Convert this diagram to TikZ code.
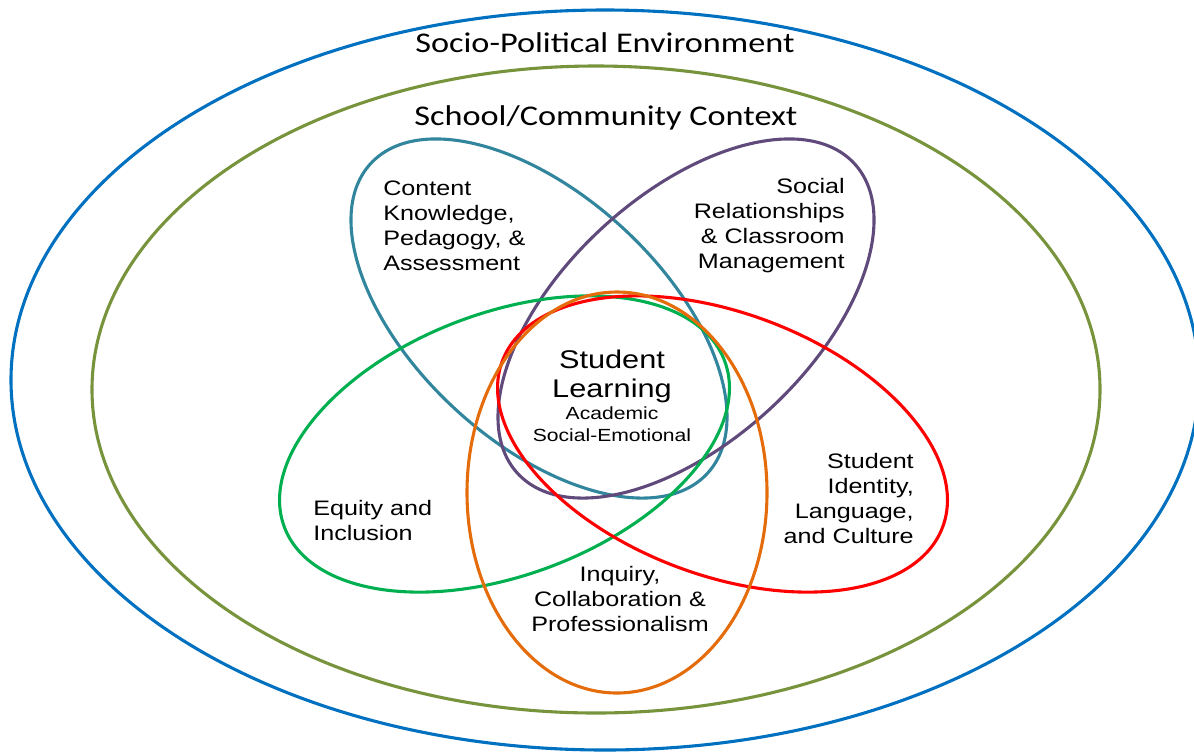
\documentclass[tikz,border=0pt]{standalone}
\usepackage{fontspec}
\newfontfamily\ringfont[FakeStretch=1.2]{Carlito}
\newfontfamily\labelfont[FakeStretch=1.2]{Liberation Sans}
\definecolor{envblue}{HTML}{0070C0}
\definecolor{ctxolive}{HTML}{77933C}
\definecolor{cpateal}{HTML}{31859C}
\definecolor{relpurple}{HTML}{604A7B}
\definecolor{eqgreen}{HTML}{00B050}
\definecolor{idred}{HTML}{FF0000}
\definecolor{inqorange}{HTML}{E46C0A}
\tikzset{
  ring/.style={line width=2.2pt},
  ringlabel/.style={font=\ringfont\fontsize{20.3}{24}\selectfont, inner sep=0pt},
  arealabel/.style={font=\labelfont\fontsize{14.9}{17.8}\selectfont, inner sep=0pt},
}
\begin{document}
\begin{tikzpicture}[x=0.025cm,y=-0.025cm]
  \useasboundingbox (0,0) rectangle (1194,751);
  \draw[ring,envblue] (605,380) ellipse [x radius=594, y radius=370];
  \draw[ring,ctxolive] (596,389.5) ellipse [x radius=504, y radius=323.5];
  \draw[ring,cpateal,rotate around={-42.6:(539,318.5)}] (539,318.5) ellipse [x radius=228.8, y radius=123.4];
  \draw[ring,relpurple,rotate around={42.6:(686,318.5)}] (686,318.5) ellipse [x radius=228.8, y radius=123.4];
  \draw[ring,eqgreen,rotate around={20.7:(504.5,444)}] (504.5,444) ellipse [x radius=235.3, y radius=131];
  \draw[ring,idred,rotate around={-20.7:(722.5,444)}] (722.5,444) ellipse [x radius=235.3, y radius=131];
  \draw[ring,inqorange] (617,492.5) ellipse [x radius=150, y radius=200.5];

  \node[ringlabel] (env) at (605,43) {Socio-Political Environment};
  \node[ringlabel] (ctx) at (606,118) {School/Community Context};

  \node[arealabel,anchor=west,align=left] (cpa) at (383,225.5)
    {Content\\Knowledge,\\Pedagogy, \&\\Assessment};
  \node[arealabel,anchor=east,align=right] (rel) at (845,225.5)
    {Social\\Relationships\\\& Classroom\\Management};
  \node[arealabel,anchor=west,align=left] (eq) at (313,520.5)
    {Equity and\\Inclusion};
  \node[arealabel,anchor=east,align=right] (id) at (914,498.5)
    {Student\\Identity,\\Language,\\and Culture};
  \node[arealabel,align=center] (inq) at (620,599)
    {Inquiry,\\Collaboration \&\\Professionalism};
  \node[inner sep=0pt,align=center,font=\labelfont\fontsize{18.2}{20.6}\selectfont] (core) at (612,396)
    {Student\\Learning\\[-5pt]\fontsize{12.5}{15}\selectfont Academic\\[-4.5pt]\fontsize{12.5}{15}\selectfont Social-Emotional};
\end{tikzpicture}
\end{document}
